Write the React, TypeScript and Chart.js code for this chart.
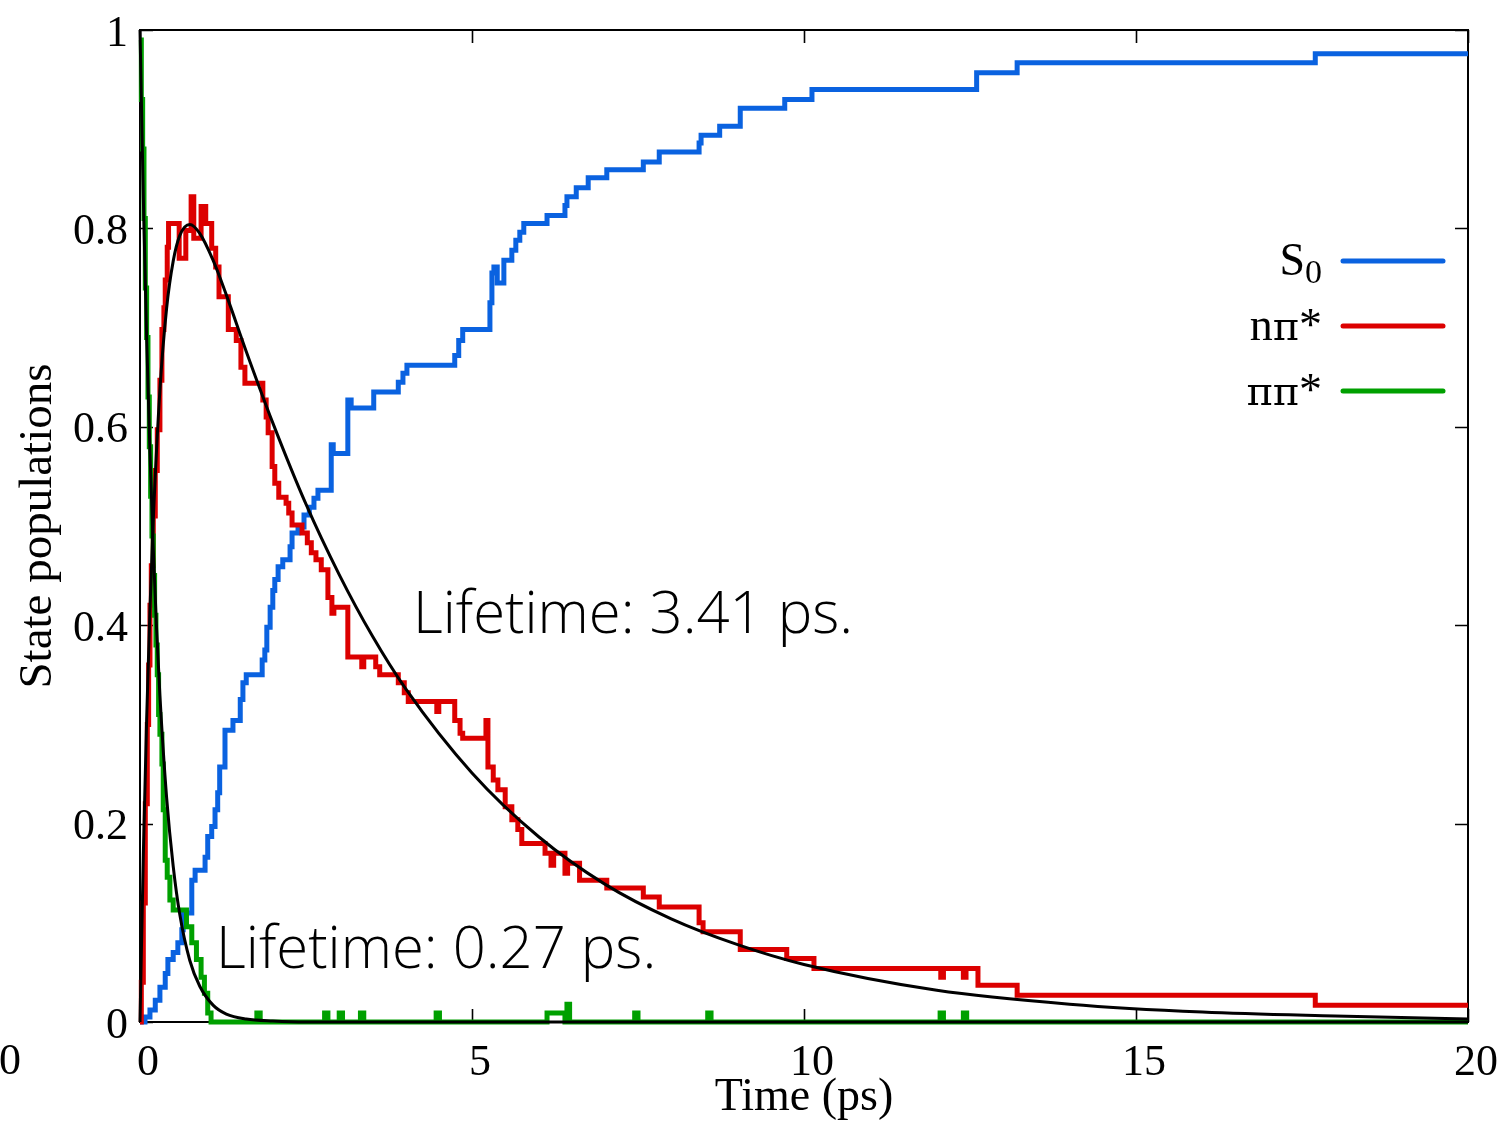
import React, { useEffect, useRef } from 'react';
import { Chart, registerables } from 'chart.js';

Chart.register(...registerables);

// ---- Data (time in ps, population) ----
const X_TICKS = [0, 5, 10, 15, 20];
const Y_TICKS = [0, 0.2, 0.4, 0.6, 0.8, 1];

const SERIES_LABELS = ['S_0', 'nπ*', 'ππ*'];
const SERIES_COLORS = ['#0a62e0', '#dc0000', '#00a000'];

// step points: [time at which value changes, new value]
const S0_STEPS: number[][] = [
  [0, 0], [0.075, 0.005], [0.15, 0.012], [0.23, 0.022], [0.30, 0.035], [0.38, 0.049], [0.42, 0.063],
  [0.50, 0.070], [0.57, 0.080], [0.63, 0.093], [0.65, 0.110], [0.78, 0.143], [0.83, 0.153], [0.98, 0.166],
  [1.02, 0.187], [1.08, 0.197], [1.13, 0.214], [1.17, 0.231], [1.20, 0.257], [1.28, 0.294], [1.40, 0.304],
  [1.51, 0.325], [1.55, 0.342], [1.60, 0.350], [1.84, 0.365], [1.88, 0.375], [1.91, 0.398], [1.96, 0.418],
  [2.00, 0.435], [2.03, 0.446], [2.08, 0.459], [2.15, 0.466], [2.26, 0.479], [2.29, 0.493], [2.38, 0.499],
  [2.47, 0.511], [2.55, 0.519], [2.62, 0.528], [2.68, 0.536], [2.88, 0.582], [2.91, 0.573], [3.13, 0.627],
  [3.18, 0.619], [3.52, 0.635], [3.89, 0.645], [3.96, 0.654], [4.02, 0.662], [4.74, 0.672], [4.80, 0.687],
  [4.86, 0.698], [5.27, 0.725], [5.30, 0.755], [5.33, 0.761], [5.38, 0.745], [5.48, 0.768], [5.60, 0.778],
  [5.66, 0.788], [5.72, 0.796], [5.78, 0.805], [6.13, 0.813], [6.40, 0.823], [6.43, 0.832], [6.57, 0.841],
  [6.75, 0.851], [7.03, 0.859], [7.58, 0.867], [7.82, 0.877], [8.42, 0.886], [8.45, 0.894], [8.73, 0.903],
  [9.04, 0.921], [9.71, 0.930], [10.12, 0.940], [12.60, 0.957], [13.21, 0.967], [17.70, 0.976], [20, 0.976],
];

const NPI_STEPS: number[][] = [
  [0, 0], [0.02, 0.04], [0.05, 0.12], [0.08, 0.22], [0.11, 0.30], [0.13, 0.36], [0.15, 0.42], [0.17, 0.46],
  [0.20, 0.51], [0.23, 0.556], [0.26, 0.597], [0.30, 0.647], [0.33, 0.698], [0.36, 0.72], [0.38, 0.748],
  [0.41, 0.781], [0.43, 0.805], [0.59, 0.770], [0.69, 0.798], [0.77, 0.832], [0.81, 0.790], [0.92, 0.822],
  [0.99, 0.805], [1.08, 0.780], [1.14, 0.761], [1.19, 0.731], [1.33, 0.698], [1.45, 0.687], [1.52, 0.660],
  [1.58, 0.644], [1.85, 0.627], [1.90, 0.610], [1.93, 0.594], [1.99, 0.560], [2.03, 0.543], [2.09, 0.529],
  [2.20, 0.523], [2.24, 0.513], [2.29, 0.501], [2.44, 0.493], [2.52, 0.483], [2.58, 0.473], [2.65, 0.466],
  [2.73, 0.456], [2.83, 0.428], [2.89, 0.412], [2.92, 0.418], [3.13, 0.368], [3.34, 0.358], [3.37, 0.368],
  [3.55, 0.358], [3.61, 0.350], [3.89, 0.342], [3.98, 0.332], [4.04, 0.323], [4.47, 0.313], [4.50, 0.323],
  [4.74, 0.304], [4.82, 0.291], [4.86, 0.286], [5.21, 0.304], [5.24, 0.257], [5.32, 0.244], [5.39, 0.234],
  [5.50, 0.217], [5.60, 0.204], [5.69, 0.194], [5.75, 0.180], [6.10, 0.170], [6.19, 0.158], [6.23, 0.170],
  [6.40, 0.150], [6.44, 0.160], [6.62, 0.143], [7.03, 0.135], [7.58, 0.126], [7.82, 0.116], [8.42, 0.100],
  [8.48, 0.091], [9.04, 0.073], [9.74, 0.064], [10.15, 0.054], [12.06, 0.045], [12.10, 0.054], [12.40, 0.045],
  [12.44, 0.054], [12.62, 0.037], [13.21, 0.027], [17.70, 0.017], [20, 0.017],
];

const PIPI_STEPS: number[][] = [
  [0, 0.99], [0.02, 0.93], [0.04, 0.88], [0.06, 0.81], [0.08, 0.74], [0.10, 0.69], [0.12, 0.63], [0.14, 0.58],
  [0.16, 0.53], [0.18, 0.49], [0.20, 0.45], [0.22, 0.41], [0.24, 0.38], [0.26, 0.35], [0.28, 0.31], [0.30, 0.29],
  [0.33, 0.26], [0.35, 0.214], [0.38, 0.163], [0.41, 0.146], [0.45, 0.123], [0.50, 0.113], [0.70, 0.096],
  [0.78, 0.080], [0.85, 0.063], [0.92, 0.045], [0.97, 0.029], [1.02, 0.009], [1.07, 0], [1.76, 0.009], [1.81, 0],
  [2.78, 0.009], [2.83, 0], [3.00, 0.009], [3.05, 0], [3.32, 0.009], [3.37, 0], [4.46, 0.009], [4.51, 0],
  [6.13, 0.009], [6.40, 0], [6.43, 0.018], [6.47, 0], [7.45, 0.009], [7.50, 0], [8.55, 0.009], [8.60, 0],
  [12.05, 0.009], [12.10, 0], [12.40, 0.009], [12.45, 0], [20, 0],
];

// fitted curves
const FIT_FAST_T = [0, 0.05, 0.1, 0.15, 0.2, 0.25, 0.3, 0.4, 0.5, 0.6, 0.75, 0.9, 1.1, 1.3, 1.6, 2.0, 2.5, 3, 5, 10, 20];
const FIT_FAST_V = [1, 0.831, 0.690, 0.574, 0.477, 0.396, 0.329, 0.227, 0.157, 0.108, 0.062, 0.036, 0.017, 0.008, 0.003, 0.001, 0, 0, 0, 0, 0];
const FIT_SLOW_T = [0, 0.05, 0.1, 0.15, 0.2, 0.3, 0.4, 0.5, 0.6, 0.75, 0.9, 1.1, 1.3, 1.6, 2, 2.5, 3, 3.5, 4, 5, 6, 7, 8, 9, 10, 12, 14, 16, 18, 20];
const FIT_SLOW_V = [0, 0.168, 0.305, 0.416, 0.506, 0.637, 0.719, 0.767, 0.793, 0.804, 0.795, 0.768, 0.733, 0.676, 0.604, 0.522, 0.451, 0.389, 0.336, 0.251, 0.187, 0.139, 0.104, 0.078, 0.058, 0.032, 0.018, 0.010, 0.006, 0.003];

const ANNOTATIONS = [
  { text: 'Lifetime: 3.41 ps.', t: 4.11, v: 0.392 },
  { text: 'Lifetime: 0.27 ps.', t: 1.145, v: 0.054 },
];

const SERIF = '"Liberation Serif", "Times New Roman", serif';
const GREEK = '"DejaVu Serif", serif';
const SANS = '"Open Sans", "Noto Sans", sans-serif';

const toXY = (pairs: number[][]) => pairs.map(([x, y]) => ({ x, y }));
const zipXY = (ts: number[], vs: number[]) => ts.map((x, i) => ({ x, y: vs[i] }));

// draw text right-aligned, using an upright Greek font for π
function drawMixedRight(ctx: CanvasRenderingContext2D, text: string, right: number, base: number) {
  const chars = Array.from(text);
  const fontFor = (c: string) => (c === 'π' ? `40px ${GREEK}` : `46px ${SERIF}`);
  let x = right;
  for (let i = chars.length - 1; i >= 0; i--) {
    const c = chars[i];
    ctx.font = fontFor(c);
    const w = ctx.measureText(c).width;
    x -= w;
    ctx.textAlign = 'left';
    ctx.fillText(c, x, base);
  }
}

const decorPlugin = {
  id: 'decor',
  beforeDatasetsDraw(chart: any) {
    const { ctx, chartArea: a, scales } = chart;
    const xs = scales.x;
    const ys = scales.y;
    ctx.save();
    ctx.strokeStyle = '#000';
    ctx.lineWidth = 2;
    ctx.strokeRect(a.left, a.top, a.right - a.left, a.bottom - a.top);
    ctx.lineWidth = 1.6;
    ctx.beginPath();
    const L = 13;
    for (const t of X_TICKS) {
      const px = Math.round(xs.getPixelForValue(t)) + 0.5;
      ctx.moveTo(px, a.bottom);
      ctx.lineTo(px, a.bottom - L);
      ctx.moveTo(px, a.top);
      ctx.lineTo(px, a.top + L);
    }
    for (const v of Y_TICKS) {
      const py = Math.round(ys.getPixelForValue(v)) + 0.5;
      ctx.moveTo(a.left, py);
      ctx.lineTo(a.left + L, py);
      ctx.moveTo(a.right, py);
      ctx.lineTo(a.right - L, py);
    }
    ctx.stroke();
    ctx.restore();
  },
  afterDatasetsDraw(chart: any) {
    const { ctx, chartArea: a, scales } = chart;
    const xs = scales.x;
    const ys = scales.y;
    ctx.save();
    // annotations
    ctx.fillStyle = '#000';
    ctx.font = `300 58px ${SANS}`;
    ctx.textAlign = 'left';
    ctx.textBaseline = 'alphabetic';
    for (const an of ANNOTATIONS) {
      ctx.fillText(an.text, xs.getPixelForValue(an.t), ys.getPixelForValue(an.v));
    }
    // legend
    const lineEnd = a.right - 25;
    const lineStart = a.right - 125;
    const textRight = a.right - 146;
    SERIES_LABELS.forEach((lab, i) => {
      const yRow = a.top + 231 + i * 65;
      ctx.strokeStyle = SERIES_COLORS[i];
      ctx.lineWidth = 5;
      ctx.lineCap = 'round';
      ctx.beginPath();
      ctx.moveTo(lineStart, yRow);
      ctx.lineTo(lineEnd, yRow);
      ctx.stroke();
      ctx.fillStyle = '#000';
      ctx.textBaseline = 'alphabetic';
      const base = yRow + 14;
      if (lab.includes('_')) {
        const [main, sub] = lab.split('_');
        ctx.font = `34px ${SERIF}`;
        const ws = ctx.measureText(sub).width;
        ctx.textAlign = 'right';
        ctx.fillText(sub, textRight, base + 8);
        ctx.font = `46px ${SERIF}`;
        ctx.fillText(main, textRight - ws, base);
      } else {
        drawMixedRight(ctx, lab, textRight, base);
      }
    });
    // stray label from neighbouring panel at the left edge
    ctx.font = `44px ${SERIF}`;
    ctx.textAlign = 'center';
    ctx.textBaseline = 'middle';
    ctx.fillText('0', 10, 1062);
    ctx.restore();
  },
};

export default function App() {
  const ref = useRef<HTMLCanvasElement | null>(null);
  useEffect(() => {
    if (!ref.current) return;
    const stepBase = { stepped: true, pointRadius: 0, borderWidth: 5, fill: false, clip: false, borderJoinStyle: 'miter' as const };
    const chart = new Chart(ref.current, {
      type: 'line',
      data: {
        datasets: [
          { label: 'fit ππ*', data: zipXY(FIT_FAST_T, FIT_FAST_V), borderColor: '#000', borderWidth: 3, pointRadius: 0, cubicInterpolationMode: 'monotone', clip: false, order: 0 } as any,
          { label: 'fit nπ*', data: zipXY(FIT_SLOW_T, FIT_SLOW_V), borderColor: '#000', borderWidth: 3, pointRadius: 0, cubicInterpolationMode: 'monotone', clip: false, order: 0 } as any,
          { ...stepBase, label: SERIES_LABELS[0], data: toXY(S0_STEPS), borderColor: SERIES_COLORS[0], order: 3 } as any,
          { ...stepBase, label: SERIES_LABELS[1], data: toXY(NPI_STEPS), borderColor: SERIES_COLORS[1], order: 2 } as any,
          { ...stepBase, label: SERIES_LABELS[2], data: toXY(PIPI_STEPS), borderColor: SERIES_COLORS[2], order: 1 } as any,
        ],
      },
      options: {
        animation: false,
        responsive: false,
        maintainAspectRatio: false,
        devicePixelRatio: 1,
        layout: { padding: { top: 30, right: 38, left: 0, bottom: 0 } },
        plugins: { legend: { display: false }, tooltip: { enabled: false } },
        scales: {
          x: {
            type: 'linear',
            min: 0,
            max: 20,
            afterBuildTicks: (s: any) => { s.ticks = X_TICKS.map((value) => ({ value })); },
            grid: { display: false, drawTicks: false },
            border: { display: false },
            ticks: { font: { family: SERIF, size: 44 }, color: '#000', padding: 15, labelOffset: 8, maxRotation: 0, autoSkip: false },
            title: { display: true, text: 'Time (ps)', color: '#000', font: { family: SERIF, size: 46, lineHeight: 1 }, padding: { top: 0, bottom: 6 } },
            afterFit: (s: any) => { s.height = 105; s.paddingLeft = 0; s.paddingRight = 0; },
          },
          y: {
            type: 'linear',
            min: 0,
            max: 1,
            afterBuildTicks: (s: any) => { s.ticks = Y_TICKS.map((value) => ({ value })); },
            grid: { display: false, drawTicks: false },
            border: { display: false },
            ticks: { font: { family: SERIF, size: 44 }, color: '#000', padding: 12, labelOffset: 4, callback: (v: any) => String(Math.round(Number(v) * 10) / 10) },
            title: { display: true, text: 'State populations', color: '#000', font: { family: SERIF, size: 47, lineHeight: 1 }, padding: { top: 15, bottom: 0 } },
            afterFit: (s: any) => { s.width = 140; s.paddingTop = 0; s.paddingBottom = 0; },
          },
        },
      } as any,
      plugins: [decorPlugin],
    });
    return () => chart.destroy();
  }, []);
  return (
    <div style={{ position: 'absolute', left: 0, top: 0, width: 1506, height: 1127, background: '#fff' }}>
      <canvas ref={ref} width={1506} height={1127} style={{ width: 1506, height: 1127, display: 'block' }} />
    </div>
  );
}
